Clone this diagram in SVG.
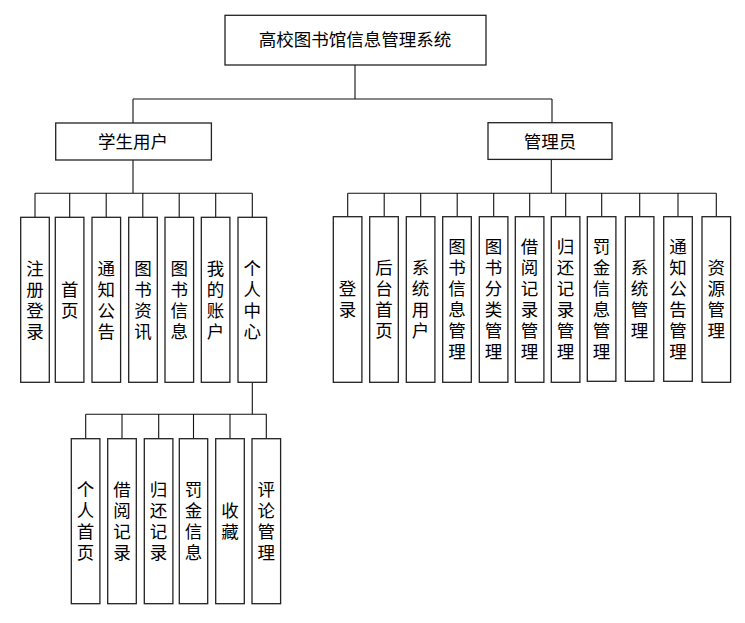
<svg xmlns="http://www.w3.org/2000/svg" width="745" height="623" viewBox="0 0 745 623">
<style>
.box{fill:#fff;stroke:#222;stroke-width:1.3}
.ln{fill:none;stroke:#111;stroke-width:1.1}
text{font-family:"Noto Sans CJK SC","Noto Sans",sans-serif;font-size:17.5px;fill:#000;text-anchor:middle}
</style>
<rect width="745" height="623" fill="#fff"/>
<g id="connectors">
<path class="ln" d="M355,65V99M133,99H552M133,99V123M552,99V123"/>
<path class="ln" d="M133,160V193.3M35,193.3H252.3M35,193.3V217.3M69.7,193.3V217.3M106.2,193.3V217.3M142.8,193.3V217.3M179.2,193.3V217.3M215.7,193.3V217.3M252.3,193.3V217.3"/>
<path class="ln" d="M551.3,160V193.3M347.7,193.3H716.3M347.7,193.3V216.7M384.2,193.3V216.7M420.7,193.3V216.7M457.2,193.3V216.7M493.7,193.3V216.7M529.7,193.3V216.7M565.7,193.3V216.7M601.7,193.3V216.7M639.7,193.3V216.7M678,193.3V216.7M716.3,193.3V216.7"/>
<path class="ln" d="M252.3,382.3V414.3M85.7,414.3H266.7M85.7,414.3V438.7M122,414.3V438.7M158.7,414.3V438.7M193.5,414.3V438.7M230,414.3V438.7M266.3,414.3V438.7"/>
</g>
<g id="root"><rect class="box" x="225" y="15.3" width="261" height="49.7"/><text x="355" y="46.3">高校图书馆信息管理系统</text></g>
<g id="student"><rect class="box" x="55.7" y="123" width="155.7" height="37"/><text x="133" y="148">学生用户</text></g>
<g id="admin"><rect class="box" x="488" y="122.7" width="124" height="36.7"/><text x="550" y="147.7">管理员</text></g>

<g id="s1"><rect class="box" x="20.7" y="217.3" width="28.6" height="165"/><text><tspan x="35" y="274.6">注</tspan><tspan x="35" y="295.6">册</tspan><tspan x="35" y="316.6">登</tspan><tspan x="35" y="337.6">录</tspan></text></g>
<g id="s2"><rect class="box" x="55.3" y="217.3" width="28.6" height="165"/><text><tspan x="69.7" y="295.6">首</tspan><tspan x="69.7" y="316.6">页</tspan></text></g>
<g id="s3"><rect class="box" x="92" y="217.3" width="28.6" height="165"/><text><tspan x="106.3" y="274.6">通</tspan><tspan x="106.3" y="295.6">知</tspan><tspan x="106.3" y="316.6">公</tspan><tspan x="106.3" y="337.6">告</tspan></text></g>
<g id="s4"><rect class="box" x="128.7" y="217.3" width="28.6" height="165"/><text><tspan x="143" y="274.6">图</tspan><tspan x="143" y="295.6">书</tspan><tspan x="143" y="316.6">资</tspan><tspan x="143" y="337.6">讯</tspan></text></g>
<g id="s5"><rect class="box" x="165" y="217.3" width="28.6" height="165"/><text><tspan x="179.3" y="274.6">图</tspan><tspan x="179.3" y="295.6">书</tspan><tspan x="179.3" y="316.6">信</tspan><tspan x="179.3" y="337.6">息</tspan></text></g>
<g id="s6"><rect class="box" x="201.3" y="217.3" width="28.6" height="165"/><text><tspan x="215.6" y="274.6">我</tspan><tspan x="215.6" y="295.6">的</tspan><tspan x="215.6" y="316.6">账</tspan><tspan x="215.6" y="337.6">户</tspan></text></g>
<g id="s7"><rect class="box" x="238" y="217.3" width="28.6" height="165"/><text><tspan x="252.3" y="274.6">个</tspan><tspan x="252.3" y="295.6">人</tspan><tspan x="252.3" y="316.6">中</tspan><tspan x="252.3" y="337.6">心</tspan></text></g>

<g id="a1"><rect class="box" x="333.3" y="216.7" width="28.6" height="165.6"/><text><tspan x="347.6" y="295.3">登</tspan><tspan x="347.6" y="316.3">录</tspan></text></g>
<g id="a2"><rect class="box" x="369.7" y="216.7" width="28.6" height="165.6"/><text><tspan x="384" y="274.3">后</tspan><tspan x="384" y="295.3">台</tspan><tspan x="384" y="316.3">首</tspan><tspan x="384" y="337.3">页</tspan></text></g>
<g id="a3"><rect class="box" x="406.3" y="216.7" width="28.6" height="165.6"/><text><tspan x="420.6" y="274.3">系</tspan><tspan x="420.6" y="295.3">统</tspan><tspan x="420.6" y="316.3">用</tspan><tspan x="420.6" y="337.3">户</tspan></text></g>
<g id="a4"><rect class="box" x="442.7" y="216.7" width="28.6" height="165.6"/><text><tspan x="457" y="253.3">图</tspan><tspan x="457" y="274.3">书</tspan><tspan x="457" y="295.3">信</tspan><tspan x="457" y="316.3">息</tspan><tspan x="457" y="337.3">管</tspan><tspan x="457" y="358.3">理</tspan></text></g>
<g id="a5"><rect class="box" x="479.3" y="216.7" width="28.6" height="165.6"/><text><tspan x="493.6" y="253.3">图</tspan><tspan x="493.6" y="274.3">书</tspan><tspan x="493.6" y="295.3">分</tspan><tspan x="493.6" y="316.3">类</tspan><tspan x="493.6" y="337.3">管</tspan><tspan x="493.6" y="358.3">理</tspan></text></g>
<g id="a6"><rect class="box" x="515.3" y="216.7" width="28.6" height="165.6"/><text><tspan x="529.6" y="253.3">借</tspan><tspan x="529.6" y="274.3">阅</tspan><tspan x="529.6" y="295.3">记</tspan><tspan x="529.6" y="316.3">录</tspan><tspan x="529.6" y="337.3">管</tspan><tspan x="529.6" y="358.3">理</tspan></text></g>
<g id="a7"><rect class="box" x="551.3" y="216.7" width="28.6" height="165.6"/><text><tspan x="565.6" y="253.3">归</tspan><tspan x="565.6" y="274.3">还</tspan><tspan x="565.6" y="295.3">记</tspan><tspan x="565.6" y="316.3">录</tspan><tspan x="565.6" y="337.3">管</tspan><tspan x="565.6" y="358.3">理</tspan></text></g>
<g id="a8"><rect class="box" x="587.3" y="216.7" width="28.6" height="164.6"/><text><tspan x="601.6" y="253.3">罚</tspan><tspan x="601.6" y="274.3">金</tspan><tspan x="601.6" y="295.3">信</tspan><tspan x="601.6" y="316.3">息</tspan><tspan x="601.6" y="337.3">管</tspan><tspan x="601.6" y="358.3">理</tspan></text></g>
<g id="a9"><rect class="box" x="625.3" y="216.7" width="28.6" height="164.6"/><text><tspan x="639.6" y="274.3">系</tspan><tspan x="639.6" y="295.3">统</tspan><tspan x="639.6" y="316.3">管</tspan><tspan x="639.6" y="337.3">理</tspan></text></g>
<g id="a10"><rect class="box" x="663.7" y="216.7" width="28.6" height="164.6"/><text><tspan x="678" y="253.3">通</tspan><tspan x="678" y="274.3">知</tspan><tspan x="678" y="295.3">公</tspan><tspan x="678" y="316.3">告</tspan><tspan x="678" y="337.3">管</tspan><tspan x="678" y="358.3">理</tspan></text></g>
<g id="a11"><rect class="box" x="702" y="216.7" width="28.6" height="165.6"/><text><tspan x="716.3" y="274.3">资</tspan><tspan x="716.3" y="295.3">源</tspan><tspan x="716.3" y="316.3">管</tspan><tspan x="716.3" y="337.3">理</tspan></text></g>

<g id="p1"><rect class="box" x="71.3" y="438.7" width="28.6" height="165"/><text><tspan x="85.6" y="496">个</tspan><tspan x="85.6" y="517">人</tspan><tspan x="85.6" y="538">首</tspan><tspan x="85.6" y="559">页</tspan></text></g>
<g id="p2"><rect class="box" x="107.7" y="438.7" width="28.6" height="165"/><text><tspan x="122" y="496">借</tspan><tspan x="122" y="517">阅</tspan><tspan x="122" y="538">记</tspan><tspan x="122" y="559">录</tspan></text></g>
<g id="p3"><rect class="box" x="144.3" y="438.7" width="28.6" height="165"/><text><tspan x="158.6" y="496">归</tspan><tspan x="158.6" y="517">还</tspan><tspan x="158.6" y="538">记</tspan><tspan x="158.6" y="559">录</tspan></text></g>
<g id="p4"><rect class="box" x="179.3" y="438.7" width="28.4" height="165"/><text><tspan x="193.5" y="496">罚</tspan><tspan x="193.5" y="517">金</tspan><tspan x="193.5" y="538">信</tspan><tspan x="193.5" y="559">息</tspan></text></g>
<g id="p5"><rect class="box" x="215.7" y="438.7" width="28.6" height="165"/><text><tspan x="230" y="517">收</tspan><tspan x="230" y="538">藏</tspan></text></g>
<g id="p6"><rect class="box" x="252" y="438.7" width="28.6" height="165"/><text><tspan x="266.3" y="496">评</tspan><tspan x="266.3" y="517">论</tspan><tspan x="266.3" y="538">管</tspan><tspan x="266.3" y="559">理</tspan></text></g>
</svg>
